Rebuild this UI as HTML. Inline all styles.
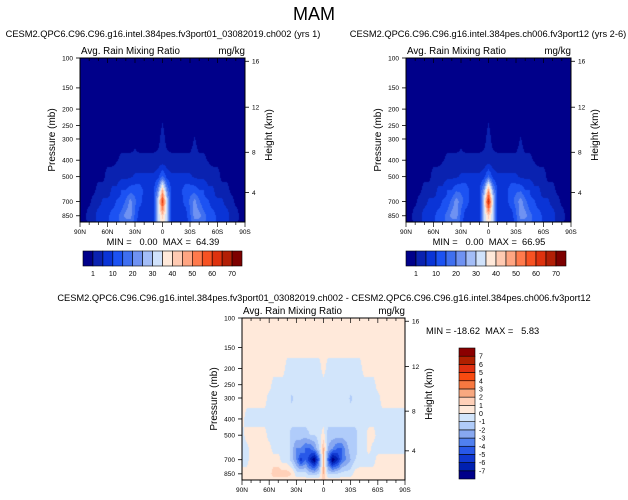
<!DOCTYPE html>
<html><head><meta charset="utf-8">
<style>
body{margin:0;background:#fff;width:628px;height:500px;position:relative;overflow:hidden;font-family:"Liberation Sans",Arial,sans-serif;color:#000}
.t{position:absolute;white-space:nowrap;line-height:1}
canvas{position:absolute}
svg{position:absolute;left:0;top:0}
svg text{white-space:pre}
</style></head><body>
<div class="t" style="left:0;width:628px;text-align:center;top:5px;font-size:18px">MAM</div>
<div class="t" style="left:2px;width:322px;text-align:center;top:30px;font-size:9.3px">CESM2.QPC6.C96.C96.g16.intel.384pes.fv3port01_03082019.ch002 (yrs 1)</div>
<div class="t" style="left:327px;width:322px;text-align:center;top:30px;font-size:9.3px">CESM2.QPC6.C96.C96.g16.intel.384pes.ch006.fv3port12 (yrs 2-6)</div>
<div class="t" style="left:0;width:648px;text-align:center;top:294px;font-size:9.3px">CESM2.QPC6.C96.C96.g16.intel.384pes.fv3port01_03082019.ch002 - CESM2.QPC6.C96.C96.g16.intel.384pes.ch006.fv3port12</div>
<canvas id="c1" width="165" height="164" style="left:80px;top:58px"></canvas>
<canvas id="c2" width="165" height="164" style="left:406px;top:58px"></canvas>
<canvas id="c3" width="163" height="162" style="left:242px;top:318px"></canvas>
<svg id="ov" width="628" height="500"></svg>
<script>
const lats=["90N","60N","30N","0","30S","60S","90S"];
const levels=[100,150,200,250,300,400,500,600,700,850,925];
const pTicks=[100,150,200,250,300,400,500,700,850];
const zTicks=[16,12,8,4];
const zTickPos=[0.02,0.30,0.575,0.82];
const cbBounds=[1,5,10,15,20,25,30,35,40,45,50,55,60,65,70];
const cbLabels=["1","10","20","30","40","50","60","70"];
const cbColors=["#00008a","#0a22b0","#0a34d6","#1c52f2","#3f6ff0","#6f92f2","#a3bdf7","#d0e2fb","#ffe9da","#ffcab2","#ffa582","#ff7a4c","#f75222","#de320e","#b21f06","#7d0000"];
const dBounds=[-7,-6,-5,-4,-3,-2,-1,0,1,2,3,4,5,6,7];
const dColors=["#00008a","#0020b0","#1038d0","#2858e8","#5080f0","#88a8f0","#b0ccfa","#d2e5fb","#ffe9da","#ffd0b8","#f8a880","#f87840","#f84a10","#e03010","#b02000","#8b0000"];
const Z=[0,0,0,0,0,0,0,0,0,0,0,0,0,0,0,0,0,0,0,0,0,0,0,0,0,0,0,0,0,0,0,0,0,0,0,0,0];
const left=[
Z,Z,Z,
[0,0,0,0,0,0,0,0,0,0,0,0,0,0,0,0,0,0,1.2,0,0,0,0,0,0,0,0,0,0,0,0,0,0,0,0,0,0],
[0,0,0,0,0,0,0,0,0,0,0,0,0.6,0,0,0,0,0.5,1.6,0.5,0,0,0,0,0,1.2,0,0,0,0,0,0,0,0,0,0,0],
[0,0,0,0,0,0,0,0,0.8,1.5,1.5,1.5,1.5,1.5,1.5,1.5,1.5,1.5,1.5,1.5,1.5,1.5,1.5,1.5,1.5,2,1.5,1.5,0.8,0,0,0,0,0,0,0,0],
[0,0,0,0,0,0,2.5,2.5,2.5,4,4,4,6,6,6,6,6,8,16,8,6,6,6,6,6,4,4,4,2.5,2.5,2.5,0,0,0,0,0,0],
[0,0,0,0,2.5,2.5,2.5,6,6,10,10,13,13,13,9,9,9,20,45,20,9,9,9,13,13,13,10,10,6,6,2.5,2.5,2.5,0,0,0,0],
[0,0,0,2.5,2.5,6,6,6,11,11,16,22,16,12,8,8,8,30,62,30,8,8,8,12,16,22,16,11,11,6,6,6,2.5,2.5,0,0,0],
[0,0,3,3,8,8,8,13,13,17,22,22,14,7,7,7,7,30,42,30,7,7,7,7,14,22,22,17,13,13,8,8,8,3,3,0,0],
[0,0,2,2,8,8,8,13,13,16,18,18,13,7,7,7,7,30,38,30,7,7,7,7,13,18,18,16,13,13,8,8,8,2,2,0,0]];
const right=[
Z,Z,Z,
[0,0,0,0,0,0,0,0,0,0,0,0,0,0,0,0,0,0,1.2,0,0,0,0,0,0,0,0,0,0,0,0,0,0,0,0,0,0],
[0,0,0,0,0,0,0,0,0,0,0,0,0.6,0,0,0,0,0.5,1.6,0.5,0,0,0,0,0,1.2,0,0,0,0,0,0,0,0,0,0,0],
[0,0,0,0,0,0,0,0,0.8,1.5,1.5,1.5,1.5,1.5,1.5,1.5,1.5,1.5,1.5,1.5,1.5,1.5,1.5,1.5,1.5,2,1.5,1.5,0.8,0,0,0,0,0,0,0,0],
[0,0,0,0,0,0,2.5,2.5,2.5,4,4,4,6,6,6,6,6,8,17,8,6,6,6,6,6,4,4,4,2.5,2.5,2.5,0,0,0,0,0,0],
[0,0,0,0,2.5,2.5,2.5,6,6,10,10,14,14,14,9,9,9,22,48,22,9,9,9,14,14,14,10,10,6,6,2.5,2.5,2.5,0,0,0,0],
[0,0,0,2.5,2.5,6,6,6,11,11,17,23,17,13,9,9,9,32,66,32,9,9,9,13,17,23,17,11,11,6,6,6,2.5,2.5,0,0,0],
[0,0,3,3,8,8,8,13,13,17,22,22,14,7,7,7,7,30,42,30,7,7,7,7,14,22,22,17,13,13,8,8,8,3,3,0,0],
[0,0,2,2,8,8,8,13,13,16,18,18,13,7,7,7,7,30,38,30,7,7,7,7,13,18,18,16,13,13,8,8,8,2,2,0,0]];
const P=0.5,M=-0.5;
const diff=[
[P,P,P,P,P,P,P,P,P,P,P,P,P,P,P,P,P,P,P,P,P,P,P,P,P,P,P,P,P,P,P,P,P,P,P,P,P],
[P,P,P,P,P,P,P,P,P,P,P,P,P,P,P,P,P,P,P,P,P,P,P,P,P,P,P,P,P,P,P,P,P,P,P,P,P],
[P,P,P,P,P,P,P,P,P,P,M,M,M,M,M,M,M,M,P,M,M,M,M,M,M,M,M,P,P,P,P,P,P,P,P,P,P],
[P,P,P,P,P,P,P,M,M,M,M,M,M,M,M,M,M,M,M,M,M,M,M,M,M,M,M,M,M,M,P,P,P,P,P,P,P],
[P,P,P,P,P,P,M,M,M,M,M,-1.2,M,M,M,M,M,M,M,M,M,M,M,M,-1.2,M,M,M,M,M,M,P,P,P,P,P,P],
[P,M,M,M,M,M,M,M,M,M,M,M,M,M,M,M,M,M,M,M,M,M,M,M,M,M,M,M,M,M,M,M,M,M,M,M,M],
[M,P,P,P,P,P,M,M,M,M,M,-1.5,-1.5,-1.5,-1.5,-1,-1,M,P,-1.5,-1.5,-1.5,-1.5,-1.5,-1.5,-1.5,M,M,P,P,M,M,M,M,M,M,M],
[M,M,P,P,P,P,P,M,M,M,M,-1.5,-3,-3,-4,-4,-3,-1,2,-2,-3,-4,-4,-2.5,-1.5,-1.5,M,M,P,M,M,M,M,M,M,M,M],
[M,M,P,P,P,P,P,P,P,M,M,-1.5,-3,-5.5,-4,-6,-8,-4,2,-4,-8,-6.5,-4,-3,-2,-1,M,M,M,M,P,P,P,P,P,P,P],
[P,P,P,P,P,P,P,1.5,1.5,1.5,1.5,1,M,M,M,-1.5,-1.5,-1,2,-1,-1,-1,M,M,M,P,P,P,P,P,P,P,P,P,P,P,P],
[P,P,P,P,P,P,P,P,P,P,P,P,P,P,P,P,P,P,1.5,P,P,P,P,P,P,P,P,P,P,P,P,P,P,P,P,P,P]];

const LP=levels.map(v=>Math.log10(v));
function yFrac(p){return (Math.log10(p)-2)/(Math.log10(925)-2);}
function colorFor(v,bounds,cols){let k=0;while(k<bounds.length&&v>=bounds[k])k++;return cols[k];}
function drawField(id,data,bounds,cols){
  const c=document.getElementById(id),g=c.getContext('2d'),W=c.width,H=c.height,n=data[0].length;
  for(let y=0;y<H;y++){
    const lp=2+((y+0.5)/H)*(Math.log10(925)-2);
    let r=0;while(r<LP.length-2&&lp>LP[r+1])r++;
    const fr=Math.min(1,Math.max(0,(lp-LP[r])/(LP[r+1]-LP[r])));
    for(let x=0;x<W;x++){
      const fi=(x+0.5)/W*(n-1);let i=Math.min(n-2,Math.floor(fi));const fx=fi-i;
      const a=data[r][i]*(1-fx)+data[r][i+1]*fx,b=data[r+1][i]*(1-fx)+data[r+1][i+1]*fx;
      g.fillStyle=colorFor(a*(1-fr)+b*fr,bounds,cols);g.fillRect(x,y,1,1);
    }
  }
}
drawField('c1',left,cbBounds,cbColors);
drawField('c2',right,cbBounds,cbColors);
drawField('c3',diff,dBounds,dColors);

const NS='http://www.w3.org/2000/svg',ov=document.getElementById('ov');
function el(t,a,txt){const e=document.createElementNS(NS,t);for(const k in a)e.setAttribute(k,a[k]);if(txt!==undefined)e.textContent=txt;ov.appendChild(e);return e;}
function axes(x0,y0,W,H,name){
  let f=el('rect',{x:x0,y:y0,width:W,height:H,fill:'none',stroke:'#000','stroke-width':1});
  
  
  let t=el('text',{x:x0+1,y:y0-4,'font-size':9.8},'Avg. Rain Mixing Ratio');
  
  
  t=el('text',{x:x0+W,y:y0-4,'font-size':9.8,'text-anchor':'end'},'mg/kg');
  
  
  pTicks.forEach(p=>{const y=y0+yFrac(p)*H;
    el('line',{x1:x0-4,x2:x0,y1:y,y2:y,stroke:'#000','stroke-width':0.8});
    const l=el('text',{x:x0-7,y:y+2.3,'font-size':6.5,'text-anchor':'end'},p);
    
    });
  zTicks.forEach((z,k)=>{const y=y0+zTickPos[k]*H;
    el('line',{x1:x0+W,x2:x0+W+4,y1:y,y2:y,stroke:'#000','stroke-width':0.8});
    const l=el('text',{x:x0+W+7,y:y+2.3,'font-size':6.5},z);
    
    });
  for(let k=0;k<=18;k++){const x=x0+k*W/18,len=k%3==0?5:3;
    el('line',{x1:x,x2:x,y1:y0+H,y2:y0+H+len,stroke:'#000','stroke-width':0.7});
    el('line',{x1:x,x2:x,y1:y0,y2:y0+len,stroke:'#000','stroke-width':0.7});}
  lats.forEach((s,k)=>{const l=el('text',{x:x0+k*W/6,y:y0+H+12,'font-size':6.5,'text-anchor':'middle'},s);
    
    });
  t=el('text',{x:0,y:0,'font-size':10,'text-anchor':'middle',transform:`translate(${x0-25},${y0+H/2}) rotate(-90)`},'Pressure (mb)');
  
  
  t=el('text',{x:0,y:0,'font-size':10,'text-anchor':'middle',transform:`translate(${x0+W+27},${y0+H/2-5}) rotate(-90)`},'Height (km)');
  
  
}
axes(80,58,165,164,'left-plot');
axes(406,58,165,164,'right-plot');
axes(242,318,163,162,'diff-plot');
let s=el('text',{x:163,y:245,'font-size':9.3,'text-anchor':'middle'},'MIN =   0.00  MAX =  64.39');


s=el('text',{x:489,y:245,'font-size':9.3,'text-anchor':'middle'},'MIN =   0.00  MAX =  66.95');


s=el('text',{x:426,y:334,'font-size':9.3},'MIN = -18.62  MAX =   5.83');


function hbar(x0,y0,W,H,name){
  const bw=W/cbColors.length;
  cbColors.forEach((c,k)=>{const r=el('rect',{x:x0+k*bw,y:y0,width:bw,height:H,fill:c,stroke:'#000','stroke-width':0.6});
    
    });
  cbLabels.forEach((l,k)=>{const t=el('text',{x:x0+(2*k+1)*bw,y:y0+H+10,'font-size':7,'text-anchor':'middle'},l);
    
    });
}
hbar(83,251,159,15,'left-colorbar');
hbar(406,251,160,15,'right-colorbar');
const vb={x:459,y:348,w:16,h:131};
const bh=vb.h/dColors.length;
dColors.forEach((c,k)=>{const r=el('rect',{x:vb.x,y:vb.y+vb.h-(k+1)*bh,width:vb.w,height:bh,fill:c,stroke:'#000','stroke-width':0.6});
  
  });
dBounds.forEach((b,k)=>{const t=el('text',{x:vb.x+vb.w+4,y:vb.y+vb.h-(k+1)*bh+2.5,'font-size':7},b);
  
  });
</script>
</body></html>
